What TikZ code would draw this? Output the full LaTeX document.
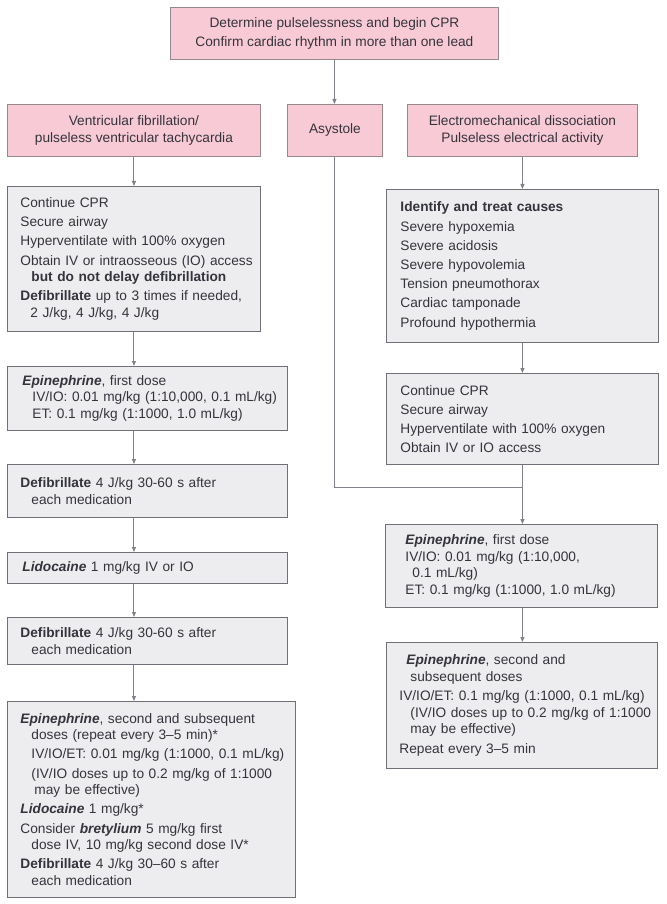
\documentclass[tikz,border=0pt]{standalone}
\usepackage{fontspec}
\setmainfont{Liberation Sans}
\usetikzlibrary{arrows.meta,calc}
\definecolor{pinkfill}{RGB}{248,202,213}
\definecolor{pinkline}{RGB}{150,136,143}
\definecolor{grayfill}{RGB}{237,237,239}
\definecolor{grayline}{RGB}{112,112,120}
\definecolor{conncol}{RGB}{130,130,140}
\definecolor{txt}{RGB}{52,52,60}
\newcommand\Ln[1]{\mbox{#1}}
\newcommand\bi[1]{\textbf{\textit{#1}}}
\newcommand\ind{\hspace*{11pt}}
\newcommand\gp{2.6pt}
\newcommand\fs{\fontsize{13.7}{16.6}\selectfont}
\begin{document}
\begin{tikzpicture}[x=1pt,y=-1pt,
  box/.style={anchor=north west, line width=0.9pt, inner ysep=0pt, text=txt, font=\fs},
  pinkbox/.style={box, draw=pinkline, fill=pinkfill, align=center, inner xsep=4pt},
  graybox/.style={box, draw=grayline, fill=grayfill, align=left},
  conn/.style={draw=conncol, line width=1pt, -{Triangle[length=5pt,width=4pt]}},
  plain/.style={draw=conncol, line width=1pt}]
\useasboundingbox[fill=white] (0,0) rectangle (666,904);

% header boxes
\node[pinkbox, minimum width=328pt, minimum height=52pt] (top) at (170,7)
  {Determine pulselessness and begin CPR\\[1.5pt]Confirm cardiac rhythm in more than one lead};
\node[pinkbox, minimum width=253pt, minimum height=52pt] (vf) at (7,104)
  {Ventricular fibrillation/\\pulseless ventricular tachycardia};
\node[pinkbox, minimum width=95pt, minimum height=52pt] (asys) at (287,104) {Asystole};
\node[pinkbox, minimum width=230pt, minimum height=52pt] (emd) at (407,104)
  {Electromechanical dissociation\\Pulseless electrical activity};

% left column
\node[graybox, minimum width=253pt, minimum height=145pt, inner xsep=13pt, text width=227pt] (l1) at (7,186)
  {\Ln{Continue CPR}\\[\gp]
   \Ln{Secure airway}\\[\gp]
   \Ln{Hyperventilate with 100\% oxygen}\\[\gp]
   \Ln{Obtain IV or intraosseous (IO) access}\\
   \Ln{\ind\textbf{but do not delay defibrillation}}\\[\gp]
   \Ln{\textbf{Defibrillate} up to 3 times if needed,}\\
   \Ln{\hspace*{10pt}2 J/kg, 4 J/kg, 4 J/kg}};
\node[graybox, minimum width=280pt, minimum height=64pt, inner xsep=15pt, text width=250pt] (l2) at (7,366)
  {\Ln{\bi{Epinephrine}, first dose}\\
   \Ln{\hspace*{10pt}IV/IO: 0.01 mg/kg (1:10,000, 0.1 mL/kg)}\\
   \Ln{\hspace*{10pt}ET: 0.1 mg/kg (1:1000, 1.0 mL/kg)}};
\node[graybox, minimum width=280pt, minimum height=53pt, inner xsep=13pt, text width=254pt] (l3) at (7,464)
  {\Ln{\textbf{Defibrillate} 4 J/kg 30-60 s after}\\
   \Ln{\ind each medication}};
\node[graybox, minimum width=280pt, minimum height=31pt, inner xsep=15pt, text width=250pt] (l4) at (7,552)
  {\Ln{\bi{Lidocaine} 1 mg/kg IV or IO}};
\node[graybox, minimum width=280pt, minimum height=47pt, inner xsep=13pt, text width=254pt] (l5) at (7,617)
  {\Ln{\textbf{Defibrillate} 4 J/kg 30-60 s after}\\
   \Ln{\ind each medication}};
\node[graybox, minimum width=288pt, minimum height=196pt, inner xsep=13pt, text width=262pt] (l6) at (7,701)
  {\Ln{\bi{Epinephrine}, second and subsequent}\\
   \Ln{\ind doses (repeat every 3--5 min)*}\\[\gp]
   \Ln{\ind IV/IO/ET: 0.01 mg/kg (1:1000, 0.1 mL/kg)}\\[\gp]
   \Ln{\ind (IV/IO doses up to 0.2 mg/kg of 1:1000}\\
   \Ln{\ind\hspace*{3pt}may be effective)}\\[\gp]
   \Ln{\bi{Lidocaine} 1 mg/kg*}\\[\gp]
   \Ln{Consider \bi{bretylium} 5 mg/kg first}\\
   \Ln{\ind dose IV, 10 mg/kg second dose IV*}\\[\gp]
   \Ln{\textbf{Defibrillate} 4 J/kg 30--60 s after}\\
   \Ln{\ind each medication}};

% right column
\node[graybox, minimum width=272pt, minimum height=153pt, inner xsep=14pt, text width=244pt] (r1) at (386,189)
  {\Ln{\textbf{Identify and treat causes}}\\[\gp]
   \Ln{Severe hypoxemia}\\[\gp]
   \Ln{Severe acidosis}\\[\gp]
   \Ln{Severe hypovolemia}\\[\gp]
   \Ln{Tension pneumothorax}\\[\gp]
   \Ln{Cardiac tamponade}\\[\gp]
   \Ln{Profound hypothermia}};
\node[graybox, minimum width=272pt, minimum height=91pt, inner xsep=14pt, text width=244pt] (r2) at (386,373)
  {\Ln{Continue CPR}\\[\gp]
   \Ln{Secure airway}\\[\gp]
   \Ln{Hyperventilate with 100\% oxygen}\\[\gp]
   \Ln{Obtain IV or IO access}};
\node[graybox, minimum width=272pt, minimum height=83pt, inner xsep=20pt, text width=232pt] (r3) at (385,524)
  {\Ln{\bi{Epinephrine}, first dose}\\
   \Ln{IV/IO: 0.01 mg/kg (1:10,000,}\\
   \Ln{\hspace*{7pt}0.1 mL/kg)}\\
   \Ln{ET: 0.1 mg/kg (1:1000, 1.0 mL/kg)}};
\node[graybox, minimum width=271pt, minimum height=126pt, inner xsep=13pt, text width=245pt] (r4) at (386,642)
  {\Ln{\hspace*{7pt}\bi{Epinephrine}, second and}\\
   \Ln{\ind subsequent doses}\\[\gp]
   \Ln{IV/IO/ET: 0.1 mg/kg (1:1000, 0.1 mL/kg)}\\
   \Ln{\ind (IV/IO doses up to 0.2 mg/kg of 1:1000}\\
   \Ln{\ind may be effective)}\\[\gp]
   \Ln{Repeat every 3--5 min}};

% connectors
\draw[conn] (top.south) -- (top.south |- asys.north);
\draw[conn] (vf.south) -- (vf.south |- l1.north);
\draw[conn] (l1.south) -- (l1.south |- l2.north);
\draw[conn] (l1.south |- l2.south) -- (l1.south |- l3.north);
\draw[conn] (l1.south |- l3.south) -- (l1.south |- l4.north);
\draw[conn] (l1.south |- l4.south) -- (l1.south |- l5.north);
\draw[conn] (l1.south |- l5.south) -- (l1.south |- l6.north);
\draw[conn] (emd.south) -- (emd.south |- r1.north);
\draw[conn] (emd.south |- r1.south) -- (emd.south |- r2.north);
\draw[conn] (emd.south |- r2.south) -- (emd.south |- r3.north);
\draw[conn] (emd.south |- r3.south) -- (emd.south |- r4.north);
\coordinate (join) at (522,487);
\draw[plain] (asys.south) |- (join);
\end{tikzpicture}
\end{document}
